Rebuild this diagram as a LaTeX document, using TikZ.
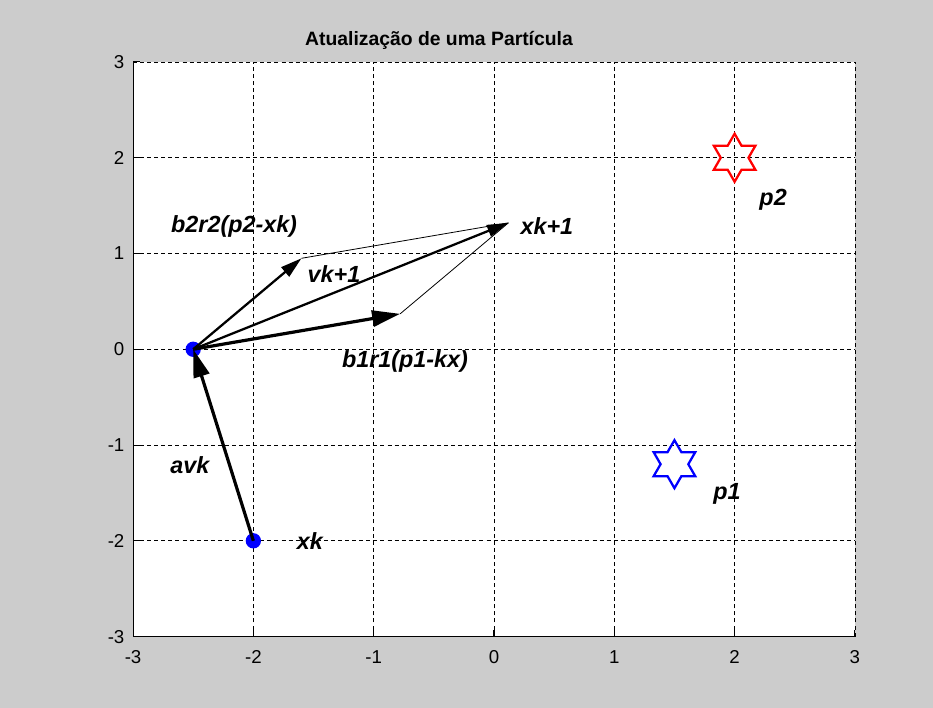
\documentclass[tikz,border=0pt]{standalone}
\usepackage{fontspec}
\setmainfont{Liberation Sans}
\usetikzlibrary{arrows.meta,shapes.geometric}
\definecolor{figgray}{RGB}{204,204,204}
\definecolor{mblue}{RGB}{0,0,255}
\definecolor{mred}{RGB}{255,0,0}
\begin{document}
\begin{tikzpicture}[x=90.2pt,y=71.8pt,
  gridline/.style={black,line width=0.6pt,dash pattern=on 3pt off 2.3pt},
  axisline/.style={black,line width=0.8pt},
  ticklab/.style={font=\fontsize{14}{14}\selectfont,inner sep=0pt},
  lab/.style={font=\fontsize{17.5}{17.5}\selectfont\bfseries\itshape,inner sep=0pt},
  dot/.style={circle,fill=mblue,inner sep=0pt,minimum size=11.5pt},
  bigarrow/.style={line width=2.4pt,-{Triangle[length=21pt,width=12pt]}},
  midarrow/.style={line width=1.7pt,-{Triangle[length=16pt,width=9pt]}},
  thinline/.style={line width=0.6pt},
  hexstar/.style={star,star points=6,star point ratio=1.732,minimum size=36pt,inner sep=0pt,line width=1.7pt}]
\useasboundingbox (-4.106,-3.741) rectangle (3.649,3.647);
\fill[figgray] (-4.106,-3.741) rectangle (3.649,3.647);
\fill[white] (-3,-3) rectangle (3,3);
% grid
\foreach \v in {-2,-1,0,1,2,3} {
  \draw[gridline] (\v,-3) -- (\v,3);
  \draw[gridline] (-3,\v) -- (3,\v);
}
% axes
\draw[axisline] (-3,3) -- (-3,-3) -- (3,-3);
\foreach \v in {-3,-2,-1,0,1,2,3} {
  \draw[axisline] (\v,-3) -- (\v,-2.927);
  \draw[axisline] (-3,\v) -- (-2.942,\v);
  \node[ticklab,anchor=east] (yl\v) at (-3.07,\v) {\v};
  \node[ticklab,anchor=north] (xl\v) at (\v,-3.14) {\v};
}
% title
\node[font=\fontsize{14.5}{14.5}\selectfont\bfseries,inner sep=0pt] (title) at (-0.457,3.229) {Atualização de uma Partícula};
% points
\node[dot] (xk) at (-2,-2) {};
\node[dot] (x0) at (-2.5,0) {};
\coordinate (b2tip) at (-1.6,0.95);
\coordinate (b1tip) at (-0.78,0.37);
\coordinate (xk1) at (0.12,1.32);
% parallelogram thin lines
\draw[thinline] (b2tip) -- (xk1);
\draw[thinline] (b1tip) -- (xk1);
% arrows
\draw[bigarrow] (xk.center) -- (x0.center);
\draw[midarrow] (x0.center) -- (b2tip);
\draw[midarrow] (x0.center) -- (xk1);
\draw[bigarrow] (x0.center) -- (b1tip);
% stars
\node[hexstar,draw=mred] (p2) at (2,2) {};
\node[hexstar,draw=mblue] (p1) at (1.5,-1.2) {};
% labels
\node[lab] (lb2) at (-2.16,1.285) {b2r2(p2-xk)};
\node[lab] (lvk) at (-1.33,0.79) {vk+1};
\node[lab] (lxk1) at (0.44,1.285) {xk+1};
\node[lab] (lb1) at (-0.74,-0.125) {b1r1(p1-kx)};
\node[lab] (lavk) at (-2.527,-1.212) {avk};
\node[lab] (lxk) at (-1.53,-2.006) {xk};
\node[lab] (lp2) at (2.32,1.557) {p2};
\node[lab] (lp1) at (1.937,-1.515) {p1};
\end{tikzpicture}
\end{document}
